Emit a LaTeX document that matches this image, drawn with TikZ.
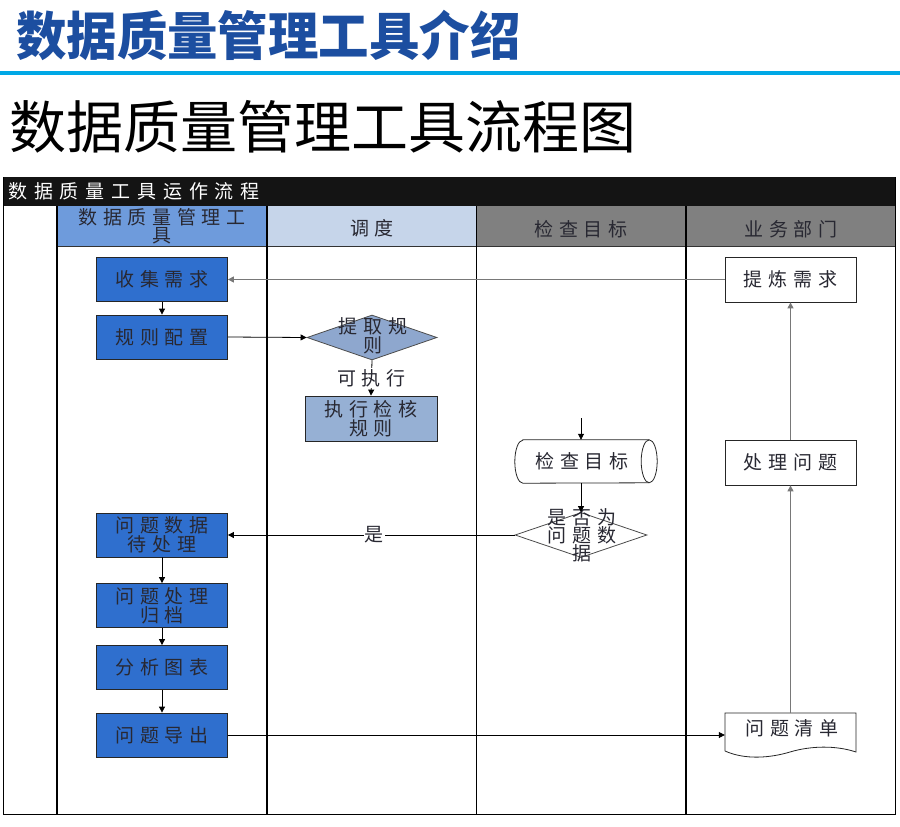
\documentclass[tikz,border=0pt]{standalone}
\usepackage{fontspec}
\newfontfamily\cjk[LetterSpace=30]{Noto Sans CJK SC}
\newfontfamily\cjkwide[LetterSpace=36]{Noto Sans CJK SC}
\newfontfamily\cjkplain{Noto Sans CJK SC}
\usetikzlibrary{shapes.geometric,arrows.meta}
\definecolor{titleblue}{RGB}{28,78,160}
\definecolor{ruleblue}{RGB}{0,168,230}
\definecolor{barblack}{RGB}{20,20,20}
\definecolor{hdrone}{RGB}{110,155,220}
\definecolor{hdrtwo}{RGB}{198,213,234}
\definecolor{hdrgray}{RGB}{128,128,128}
\definecolor{boxblue}{RGB}{47,111,206}
\definecolor{diafill}{RGB}{142,167,206}
\definecolor{execfill}{RGB}{150,176,212}
\definecolor{txtdark}{RGB}{40,40,50}
\definecolor{linegray}{RGB}{120,120,120}
\begin{document}
\begin{tikzpicture}[x=1pt,y=-1pt,
  lbl/.style={font=\cjk\fontsize{19}{19}\selectfont, text=txtdark, align=center, inner sep=0},
  bluebox/.style={lbl, draw=black!85, line width=0.8pt, fill=boxblue, minimum width=131, minimum height=44},
  whitebox/.style={lbl, draw=black!85, line width=0.8pt, fill=white, minimum width=131, minimum height=45},
  execbox/.style={lbl, draw=black!85, line width=0.8pt, fill=execfill, minimum width=132, minimum height=45},
  hdr/.style={lbl, minimum height=40, inner sep=0},
  arr/.style={-{Triangle[length=6pt,width=6pt]}, line width=0.8pt, black},
  garr/.style={-{Triangle[length=6pt,width=6pt]}, line width=1.2pt, linegray},
  lane/.style={line width=1pt, black}
]
\useasboundingbox (0,0) rectangle (900,827);
% titles
\node[font=\cjkplain\bfseries\fontsize{52}{52}\selectfont, text=titleblue, anchor=west, inner sep=0, xscale=0.97] (title) at (16,35) {数据质量管理工具介绍};
\fill[ruleblue] (0,71) rectangle (900,74.5);
\node[font=\cjkplain\fontsize{57}{57}\selectfont, text=black, anchor=west, inner sep=0] (subtitle) at (9,127) {数据质量管理工具流程图};
% frame
\fill[barblack] (3,177) rectangle (895,206);
\node[lbl, font=\cjkwide\fontsize{19}{19}\selectfont, text=white, anchor=west] (bartitle) at (8,191) {数据质量工具运作流程};
\fill[hdrone] (57,206) rectangle (267,246);
\fill[hdrtwo] (267,206) rectangle (476,246);
\fill[hdrgray] (476,206) rectangle (895,246);
\node[hdr, font=\cjk\fontsize{19}{18}\selectfont] (h1) at (162,226) {数据质量管理工\\具};
\node[hdr] (h2) at (372,228) {调度};
\node[hdr] (h3) at (581,229) {检查目标};
\node[hdr] (h4) at (791,229) {业务部门};
\draw[line width=0.8pt, black!80] (57,246) -- (895,246);
\draw[lane] (3,177) -- (3,814) -- (895,814) -- (895,177);
\draw[lane, line width=2pt] (57,206) -- (57,814);
\draw[lane, line width=2pt] (267,206) -- (267,814);
\draw[lane] (476,206) -- (476,814);
\draw[lane, line width=1.2pt] (686,206) -- (686,814);
% lane 1
\node[bluebox] (sj) at (162,279.5) {收集需求};
\node[bluebox] (gz) at (162,337) {规则配置};
\node[bluebox] (wd) at (162,535) {问题数据\\待处理};
\node[bluebox] (cl) at (162,605.5) {问题处理\\归档};
\node[bluebox] (fx) at (162,667.5) {分析图表};
\node[bluebox] (dc) at (162,735) {问题导出};
% lane 2
\node[diamond, draw=black!70, line width=0.8pt, fill=diafill, minimum width=130, minimum height=45, inner sep=0] (d1) at (372,337.5) {};
\node[lbl] (d1t) at (373,336) {提取规\\则};
\node[execbox] (zx) at (371,418.5) {执行检核\\规则};
% lane 3
\node[minimum width=142, minimum height=43, inner sep=0] (cyl) at (586,461.5) {};
\draw[line width=0.8pt, black!85, fill=white] ([xshift=8pt]cyl.north west) -- ([xshift=-8pt]cyl.north east) arc[start angle=90,end angle=-90,x radius=8pt,y radius=21.5pt] -- ([xshift=8pt]cyl.south west) arc[start angle=270,end angle=90,x radius=8pt,y radius=21.5pt] -- cycle;
\draw[line width=0.8pt, black!85] ([xshift=-8pt]cyl.north east) arc[start angle=90,end angle=270,x radius=8pt,y radius=21.5pt];
\node[lbl] (cylt) at (582,461.5) {检查目标};
\coordinate (c0) at (581,418);
\node[diamond, draw=black!70, line width=0.8pt, fill=white, minimum width=132, minimum height=45, inner sep=0] (d2) at (581,535) {};
\node[lbl, font=\cjk\fontsize{19}{18}\selectfont] (d2t) at (582,535) {是否为\\问题数\\据};
% lane 4
\node[whitebox] (tl) at (790.5,279.5) {提炼需求};
\node[whitebox] (cw) at (790.5,462.5) {处理问题};
\node[minimum width=131, minimum height=44, inner sep=0] (qd) at (790.5,735) {};
\draw[line width=0.8pt, black!85, fill=white] (725,751) -- (725,713) -- (856,713) -- (856,752) .. controls (835,745) and (810,746) .. (790,752) .. controls (770,758) and (745,760) .. (725,751);
\node[lbl] (qdt) at (792,728) {问题清单};
% connectors
\draw[garr] (tl.west) -- (sj.east);
\draw[arr] (sj) -- (gz);
\draw[arr] (gz.east) -- (d1.west);
\draw[arr] (d1.south) -- node[lbl, fill=white, inner sep=1pt] (kzx) {可执行} (zx.north);
\draw[arr] (c0) -- (c0 |- cyl.north);
\draw[arr] (c0 |- cyl.south) -- (c0 |- d2.north);
\draw[arr] (d2.west) -- node[lbl, fill=white, inner sep=1pt, pos=0.49] (shi) {是} (wd.east);
\draw[arr] (wd) -- (cl);
\draw[arr] (cl) -- (fx);
\draw[arr] (fx) -- (dc);
\draw[arr] (dc.east) -- (qd.west);
\draw[garr] (qd.north) -- (cw.south);
\draw[garr] (cw.north) -- (tl.south);
\end{tikzpicture}
\end{document}
